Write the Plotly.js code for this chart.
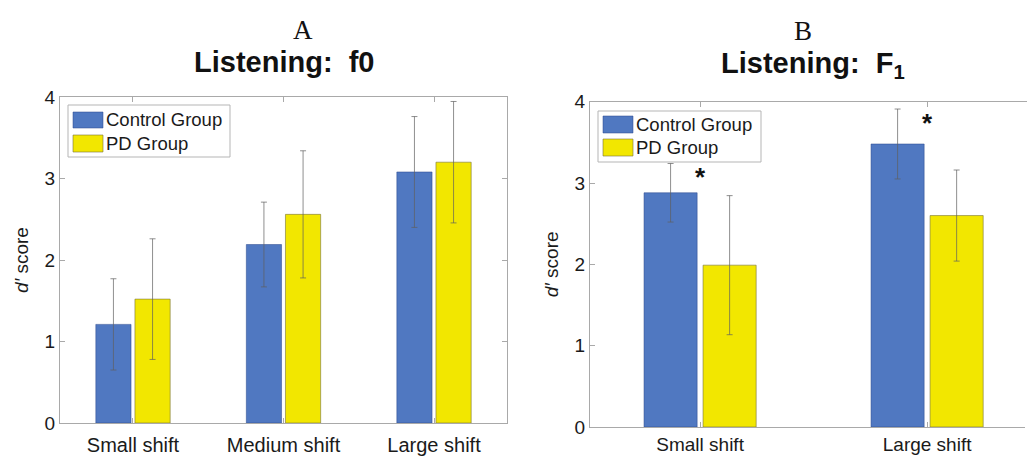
<!DOCTYPE html>
<html>
<head>
<meta charset="utf-8">
<script src="https://cdn.plot.ly/plotly-3.0.1.min.js"></script>
<style>html,body{margin:0;padding:0;background:#fff;}#chart{width:1027px;height:456px;}</style>
</head>
<body>
<div id="chart"></div>
<script>
// ---- data ----
const seriesNames = ['Control Group', 'PD Group'];
const categoriesA = ['Small shift', 'Medium shift', 'Large shift'];
const controlA = [1.21, 2.19, 3.08];
const controlAErr = [0.56, 0.52, 0.68];
const pdA = [1.52, 2.56, 3.20];
const pdAErr = [0.74, 0.78, 0.745];

const categoriesB = ['Small shift', 'Large shift'];
const controlB = [2.88, 3.48];
const controlBErr = [0.36, 0.43];
const pdB = [1.99, 2.60];
const pdBErr = [0.855, 0.56];
const significantB = [true, true];

const panelLetters = ['A', 'B'];
const panelTitles = ['Listening:\u00a0 f0', 'Listening:\u00a0 F<sub>1</sub>'];
const yTitle = '<i>d\u2032</i> score';
const yTicks = [0, 1, 2, 3, 4];

// ---- styles ----
const W = 1027, H = 456;
const BLUE = '#5078c1', YELLOW = '#f2e700';
const AXC = '#a9a9a9';
const FONT = 'Liberation Sans, Arial, Helvetica, sans-serif';
const px = x => x / W, py = y => 1 - y / H;

function barTrace(name, cats, vals, errs, color, lineColor, xa, ya) {
  return {
    type: 'bar', name: name, x: cats, y: vals, xaxis: xa, yaxis: ya,
    marker: {color: color, line: {color: lineColor, width: 1}},
    error_y: {type: 'data', array: errs, visible: true, color: 'rgba(95,95,95,0.7)', thickness: 1, width: 3},
    showlegend: false, hoverinfo: 'x+y'
  };
}

const traces = [
  barTrace(seriesNames[0], categoriesA, controlA, controlAErr, BLUE, 'rgba(40,70,140,0.5)', 'x', 'y'),
  barTrace(seriesNames[1], categoriesA, pdA, pdAErr, YELLOW, 'rgba(120,115,60,0.6)', 'x', 'y'),
  barTrace(seriesNames[0], categoriesB, controlB, controlBErr, BLUE, 'rgba(40,70,140,0.5)', 'x2', 'y2'),
  barTrace(seriesNames[1], categoriesB, pdB, pdBErr, YELLOW, 'rgba(120,115,60,0.6)', 'x2', 'y2')
];

function xax(domain, range, yanchor, fsize, standoff) {
  return {
    domain: domain, range: range, anchor: yanchor, type: 'category',
    showline: true, linecolor: AXC, linewidth: 1, mirror: 'ticks',
    ticks: 'inside', ticklen: 5, tickcolor: AXC, showgrid: false, zeroline: false,
    tickfont: {family: FONT, size: fsize, color: '#1a1a1a'}, ticklabelstandoff: standoff,
    fixedrange: true
  };
}
function yax(domain, xanchor, mirror) {
  return {
    domain: domain, range: [0, 4], anchor: xanchor, tickvals: yTicks,
    showline: true, linecolor: AXC, linewidth: 1, mirror: mirror,
    ticks: 'inside', ticklen: 5, tickcolor: AXC, showgrid: false, zeroline: false,
    tickfont: {family: FONT, size: 19, color: '#1a1a1a'},
    title: {text: yTitle, font: {family: FONT, size: 19, color: '#1a1a1a'}, standoff: 10},
    fixedrange: true
  };
}

const shapes = [], annotations = [];
function legend(bx0, by0, bx1, by1, sx0, sx1, rows, tx) {
  shapes.push({type: 'rect', xref: 'paper', yref: 'paper', x0: px(bx0), x1: px(bx1), y0: py(by0), y1: py(by1),
    line: {color: '#b5b5b5', width: 1}, fillcolor: 'white'});
  const colors = [BLUE, YELLOW];
  const lines = ['rgba(40,70,140,0.5)', 'rgba(120,115,60,0.6)'];
  rows.forEach((r, i) => {
    shapes.push({type: 'rect', xref: 'paper', yref: 'paper', x0: px(sx0), x1: px(sx1), y0: py(r[0]), y1: py(r[1]),
      line: {color: lines[i], width: 1}, fillcolor: colors[i]});
    annotations.push({xref: 'paper', yref: 'paper', x: px(tx), y: py((r[0] + r[1]) / 2), xanchor: 'left', yanchor: 'middle',
      text: seriesNames[i], showarrow: false, font: {family: FONT, size: 18.5, color: '#1a1a1a'}});
  });
}
legend(68, 105, 230, 157, 73, 103, [[112, 128], [135, 152]], 104);
legend(598, 111, 761, 162, 603, 633, [[116, 133], [139, 156]], 634);

// panel B is cropped at the right edge in the reference: hide the right frame edge
shapes.push({type: 'rect', xref: 'paper', yref: 'paper', x0: px(1025), x1: 1, y0: py(430), y1: py(104),
  line: {width: 0}, fillcolor: 'white', layer: 'above'});

// panel letters and titles
[[303, 30], [803, 31]].forEach((p, i) => annotations.push({xref: 'paper', yref: 'paper', x: px(p[0]), y: py(p[1]),
  xanchor: 'center', yanchor: 'middle', text: panelLetters[i], showarrow: false,
  font: {family: 'Liberation Serif, Times New Roman, serif', size: 27, color: '#111'}}));
[[284, 62], [813, 65]].forEach((p, i) => annotations.push({xref: 'paper', yref: 'paper', x: px(p[0]), y: py(p[1]),
  xanchor: 'center', yanchor: 'middle', text: '<b>' + panelTitles[i] + '</b>', showarrow: false,
  font: {family: FONT, size: 29, color: '#111'}}));

// significance asterisks (panel B)
significantB.forEach((s, i) => {
  if (!s) return;
  annotations.push({xref: 'x2', yref: 'y2', x: categoriesB[i], y: controlB[i] + controlBErr[i] - 0.12,
    xanchor: 'center', yanchor: 'middle', text: '<b>*</b>', showarrow: false, yshift: -4,
    font: {family: FONT, size: 26, color: '#111'}});
});

const layout = {
  width: W, height: H, margin: {l: 0, r: 0, t: 0, b: 0},
  paper_bgcolor: 'white', plot_bgcolor: 'white',
  barmode: 'group', bargap: 0.48, bargroupgap: 0.1,
  font: {family: FONT},
  xaxis: xax([px(60), px(507)], [-0.485, 2.485], 'y', 20, 4),
  yaxis: yax([1 - 423 / H, 1 - 97 / H], 'x', 'ticks'),
  xaxis2: xax([px(590), 1], [-0.485, 1.44], 'y2', 19, 0),
  yaxis2: yax([1 - 427 / H, 1 - 101.7 / H], 'x2', false),
  shapes: shapes, annotations: annotations
};

Plotly.newPlot('chart', traces, layout, {displayModeBar: false, staticPlot: true});
</script>
</body>
</html>
